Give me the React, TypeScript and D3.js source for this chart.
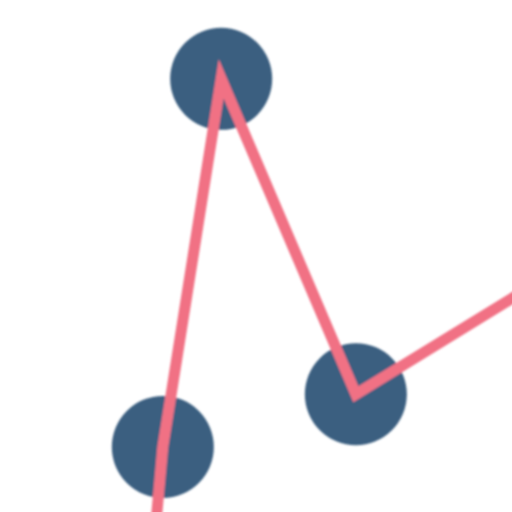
import { useEffect, useRef } from 'react'
import * as d3 from 'd3'

// point positions in data units (the view is a close crop of a larger line chart)
const xValues = [2.91, 3.18, 4.32, 6.95, 11.72]
const yValues = [-1.72, 1.27, 8.46, 2.3, 5.23]

const width = 512
const height = 512

export default function App() {
  const svgRef = useRef<SVGSVGElement>(null)

  useEffect(() => {
    document.body.style.margin = '0'
    if (!svgRef.current) return

    const svg = d3.select(svgRef.current)
    svg.selectAll('*').remove()
    svg.attr('width', width).attr('height', height)

    const data = xValues.map((x, i) => ({ x, y: yValues[i] }))

    const xScale = d3.scaleLinear().domain([0, 10]).range([0, width])
    const yScale = d3.scaleLinear().domain([0, 10]).range([height, 0])

    // soft edges, like the source render
    svg.append('defs')
      .append('filter')
      .attr('id', 'soft')
      .append('feGaussianBlur')
      .attr('stdDeviation', 1.3)

    const g = svg.append('g').attr('filter', 'url(#soft)')

    g.selectAll('circle')
      .data(data)
      .enter()
      .append('circle')
      .attr('cx', d => xScale(d.x))
      .attr('cy', d => yScale(d.y))
      .attr('r', 51)
      .attr('fill', '#3a5e80')

    const line = d3.line<{ x: number; y: number }>()
      .x(d => xScale(d.x))
      .y(d => yScale(d.y))

    g.append('path')
      .datum(data)
      .attr('d', line)
      .attr('fill', 'none')
      .attr('stroke', '#f17184')
      .attr('stroke-width', 11)
      .attr('stroke-linejoin', 'miter')
  }, [])

  return (
    <div style={{ position: 'absolute', left: 0, top: 0 }}>
      <svg ref={svgRef} style={{ display: 'block', background: '#ffffff' }} />
    </div>
  )
}
